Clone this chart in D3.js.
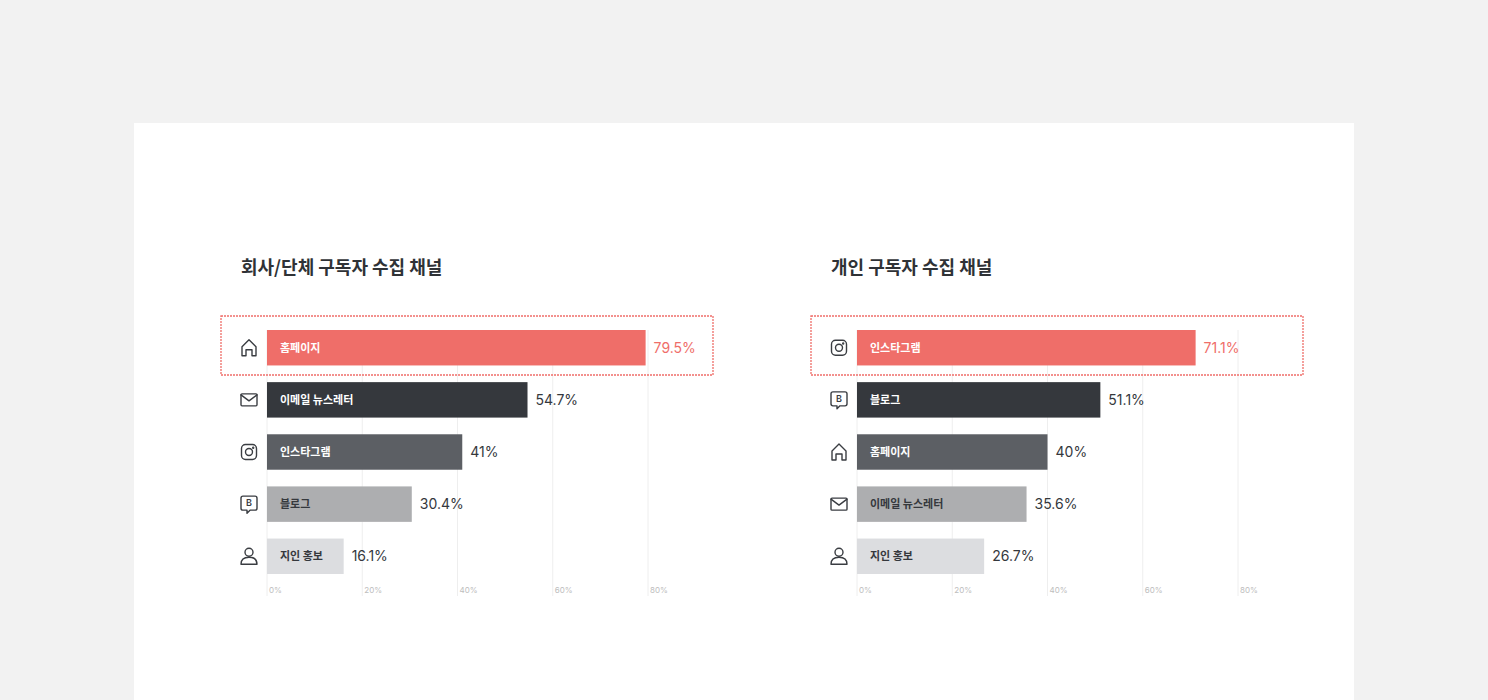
<!DOCTYPE html>
<html><head><meta charset="utf-8">
<script src="https://cdn.jsdelivr.net/npm/d3@7"></script>
<style>
body{margin:0;background:#f2f2f2;font-family:"Noto Sans CJK KR","Noto Sans",sans-serif;}
</style></head><body>
<svg id="chart" width="1488" height="700"></svg>
<script>
const companyLabels = ['홈페이지', '이메일 뉴스레터', '인스타그램', '블로그', '지인 홍보'];
const companyIcons = ['home', 'mail', 'insta', 'blog', 'person'];
const companyValues = [79.5, 54.7, 41, 30.4, 16.1];
const personLabels = ['인스타그램', '블로그', '홈페이지', '이메일 뉴스레터', '지인 홍보'];
const personIcons = ['insta', 'blog', 'home', 'mail', 'person'];
const personValues = [71.1, 51.1, 40, 35.6, 26.7];
const ticks = [0, 20, 40, 60, 80];
const barColors = ['#ef6e69', '#35383d', '#5c5f64', '#adaeb0', '#dcdde0'];
const textColors = ['#fff', '#fff', '#fff', '#35383d', '#35383d'];

const svg = d3.select('#chart');
svg.append('rect').attr('x', 134).attr('y', 123).attr('width', 1220).attr('height', 577).attr('fill', '#fff');

function icon(g, type) {
  const s = g.append('g').attr('fill', 'none').attr('stroke', '#3a3d42').attr('stroke-width', 1.4)
    .attr('stroke-linejoin', 'round').attr('stroke-linecap', 'round');
  if (type === 'home') {
    s.append('path').attr('d', 'M-7,8 V-1 L0,-8 L7,-1 V8 H3 V2 H-3 V8 Z');
  } else if (type === 'mail') {
    s.append('rect').attr('x', -8).attr('y', -6).attr('width', 16).attr('height', 12).attr('rx', 1);
    s.append('path').attr('d', 'M-8,-5 L0,1 L8,-5');
  } else if (type === 'insta') {
    s.append('rect').attr('x', -7.5).attr('y', -7.5).attr('width', 15).attr('height', 15).attr('rx', 4);
    s.append('circle').attr('r', 3.5);
    s.append('circle').attr('cx', 4.2).attr('cy', -4.2).attr('r', 0.5).attr('fill', '#3a3d42');
  } else if (type === 'blog') {
    s.append('path').attr('d', 'M-6,-8 H6 Q8,-8 8,-6 V4 Q8,6 6,6 H1 L-2,9 V6 H-6 Q-8,6 -8,4 V-6 Q-8,-8 -6,-8 Z');
    g.append('text').attr('y', 2).attr('text-anchor', 'middle').attr('font-size', 9).attr('font-weight', 600)
      .attr('fill', '#3a3d42').attr('font-family', 'Inter, sans-serif').text('B');
  } else {
    s.append('circle').attr('cy', -4).attr('r', 4);
    s.append('path').attr('d', 'M-8,8 Q-8,1 0,1 Q8,1 8,8 Z');
  }
}

function drawChart(ox, title, labels, icons, values) {
  const x = d3.scaleLinear().domain([0, 80]).range([ox + 26, ox + 407]);
  const y = d3.scaleBand().domain(labels).range([330, 574]).paddingInner(0.32).paddingOuter(0);
  const g = svg.append('g');
  g.append('text').attr('x', ox).attr('y', 274).attr('font-size', 18).attr('font-weight', 700)
    .attr('fill', '#2f3236').text(title);
  g.selectAll('line.grid').data(ticks).join('line').attr('class', 'grid')
    .attr('x1', d => x(d)).attr('x2', d => x(d)).attr('y1', 330).attr('y2', 596)
    .attr('stroke', '#eeeeee');
  g.selectAll('text.tick').data(ticks).join('text').attr('class', 'tick')
    .attr('x', d => x(d) + 2).attr('y', 593).attr('font-size', 8).attr('fill', '#bdbdbd')
    .attr('font-family', 'Inter, sans-serif').text(d => d + '%');
  g.append('rect').attr('x', ox - 20).attr('y', 316).attr('width', x(80) - ox + 85).attr('height', 59)
    .attr('fill', 'none').attr('stroke', '#ef6e69').attr('stroke-width', 1.3).attr('stroke-dasharray', '2,1');
  labels.forEach((l, i) => {
    const yy = y(l), h = y.bandwidth();
    g.append('rect').attr('x', x(0)).attr('y', yy).attr('width', x(values[i]) - x(0)).attr('height', h)
      .attr('fill', barColors[i]);
    g.append('text').attr('x', x(0) + 13).attr('y', yy + h / 2 + 4).attr('font-size', 11).attr('font-weight', 700)
      .attr('fill', textColors[i]).text(l);
    g.append('text').attr('x', x(values[i]) + 8).attr('y', yy + h / 2 + 5).attr('font-size', 14)
      .attr('fill', i === 0 ? '#ef6e69' : '#35383d').attr('font-family', 'Inter, sans-serif')
      .text(values[i] + '%');
    icon(g.append('g').attr('transform', `translate(${ox + 8},${yy + h / 2})`), icons[i]);
  });
}

drawChart(241, '회사/단체 구독자 수집 채널', companyLabels, companyIcons, companyValues);
drawChart(831, '개인 구독자 수집 채널', personLabels, personIcons, personValues);
</script>
</body></html>
